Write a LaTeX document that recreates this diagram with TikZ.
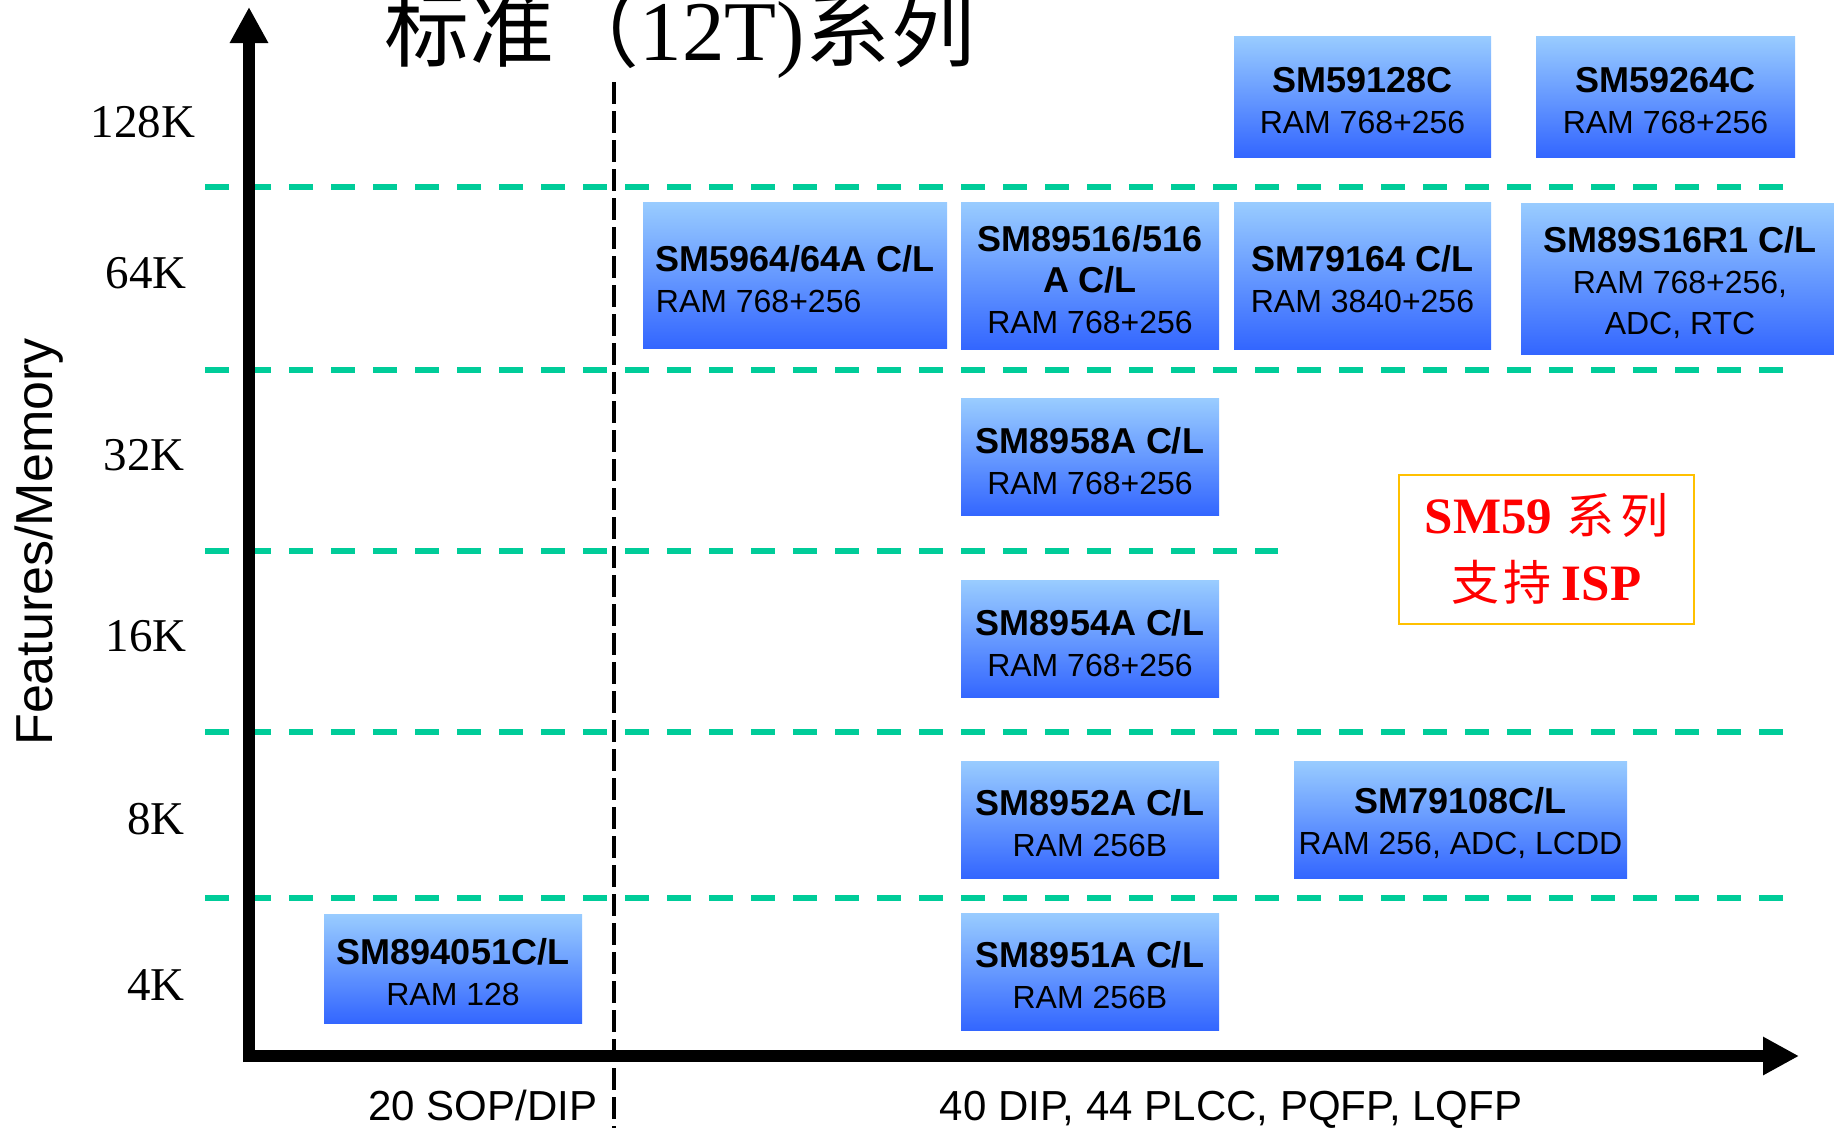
\documentclass[tikz,border=0pt]{standalone}
\usepackage{fontspec}
\setmainfont{Liberation Sans}
\newfontfamily\timesfont{Liberation Serif}
\newfontfamily\cjk{Noto Sans CJK SC}
\usetikzlibrary{arrows.meta}
\definecolor{chiptop}{RGB}{153,204,255}
\definecolor{chipbot}{RGB}{51,102,255}
\definecolor{levelgreen}{RGB}{0,204,153}
\definecolor{notegold}{RGB}{255,192,0}
\newcommand{\chipname}[1]{{\bfseries\fontsize{36pt}{41pt}\selectfont\rule{0pt}{34pt}#1}}
\newcommand{\notecjk}[1]{{\cjk\mdseries\fontsize{48pt}{67pt}\selectfont #1}}
\tikzset{
	chip/.style={top color=chiptop, bottom color=chipbot, inner sep=0pt, align=center, font=\fontsize{32pt}{41pt}\selectfont},
	chipbox/.style={chip, minimum width=258pt, minimum height=117pt},
	level/.style={levelgreen, line width=6pt, dash pattern=on 24pt off 18pt},
	split/.style={black, line width=3.3pt, dash pattern=on 22pt off 7pt},
	axis/.style={line width=12pt, -{Triangle[length=36pt,width=36pt]}},
	memlabel/.style={font=\timesfont\fontsize{47pt}{50pt}\selectfont},
	pkglabel/.style={anchor=base, font=\fontsize{42pt}{46pt}\selectfont},
}

\begin{document}
\begin{tikzpicture}[x=1pt,y=-1pt]
			%%%%% START %%%%%
			\useasboundingbox (0,0) rectangle (1834,1128);
			
			% memory levels
			\draw[level] (205,187) -- (1784,187);
			\draw[level] (205,370) -- (1784,370);
			\draw[level] (205,551) -- (1278,551);
			\draw[level] (205,732) -- (1784,732);
			\draw[level] (205,898) -- (1784,898);
			
			\draw[split] (614,82) -- (614,1128);
			
			\draw[axis] (249,1062) -- (249,7);
			\draw[axis] (243,1056) -- (1799,1056);
			
			\node[anchor=base, font=\timesfont\fontsize{85pt}{90pt}\selectfont] (title) at (680,60) {{\cjk 标准（}12T){\cjk 系列}};
			
			\node[memlabel] (k128) at (143,122) {128K};
			\node[memlabel] (k64) at (146,273) {64K};
			\node[memlabel] (k32) at (144,455) {32K};
			\node[memlabel] (k16) at (146,636) {16K};
			\node[memlabel] (k8) at (156,819) {8K};
			\node[memlabel] (k4) at (156,985) {4K};
			
			\node[rotate=90, font=\fontsize{52pt}{56pt}\selectfont] (ylabel) at (39,542) {Features/Memory};
			
			\node[pkglabel] (pkg20) at (483,1120) {20 SOP/DIP};
			\node[pkglabel] (pkg40) at (1231,1120) {40 DIP, 44 PLCC, PQFP, LQFP};
			
			% chips
			\node[chip, minimum width=257pt, minimum height=121pt] (sm59128) at (1362.5,96.5) {\chipname{SM59128C}\\RAM 768+256};
			\node[chip, minimum width=259pt, minimum height=121pt] (sm59264) at (1665.5,96.5) {\chipname{SM59264C}\\RAM 768+256};
			
			\node[chip, align=left, minimum width=304pt, minimum height=146pt] (sm5964) at (795,275) {\chipname{SM5964/64A C/L}\\RAM 768+256};
			\node[chip, minimum width=258pt, minimum height=147pt] (sm89516) at (1090,275.5) {\chipname{SM89516/516}\\\chipname{A C/L}\\RAM 768+256};
			\node[chip, minimum width=257pt, minimum height=147pt] (sm79164) at (1362.5,275.5) {\chipname{SM79164 C/L}\\RAM 3840+256};
			\node[chip, minimum width=318pt, minimum height=151pt] (sm89s16) at (1680,278.5) {\chipname{SM89S16R1 C/L}\\RAM 768+256,\\ADC, RTC};
			
			\node[chipbox] (sm8958) at (1090,457) {\chipname{SM8958A C/L}\\RAM 768+256};
			\node[chipbox] (sm8954) at (1090,639) {\chipname{SM8954A C/L}\\RAM 768+256};
			\node[chipbox] (sm8952) at (1090,819.5) {\chipname{SM8952A C/L}\\RAM 256B};
			\node[chipbox, minimum width=333pt] (sm79108) at (1460.5,819.5) {\chipname{SM79108C/L}\\RAM 256, ADC, LCDD};
			\node[chipbox] (sm8951) at (1090,971.5) {\chipname{SM8951A C/L}\\RAM 256B};
			\node[chipbox, minimum height=109pt] (sm894051) at (453,968.5) {\chipname{SM894051C/L}\\RAM 128};
			
			% ISP note
			\node[draw=notegold, line width=2pt, fill=white, minimum width=295pt, minimum height=149pt, align=center, text=red, font=\timesfont\bfseries\fontsize{51pt}{67pt}\selectfont] (ispnote) at (1546.5,549) {SM59\hspace{14pt}\notecjk{系\hspace{6pt}列}\\\notecjk{支\hspace{4pt}持}\hspace{10pt}ISP};
			
			%%%%% END %%%%%
\end{tikzpicture}
\end{document}
